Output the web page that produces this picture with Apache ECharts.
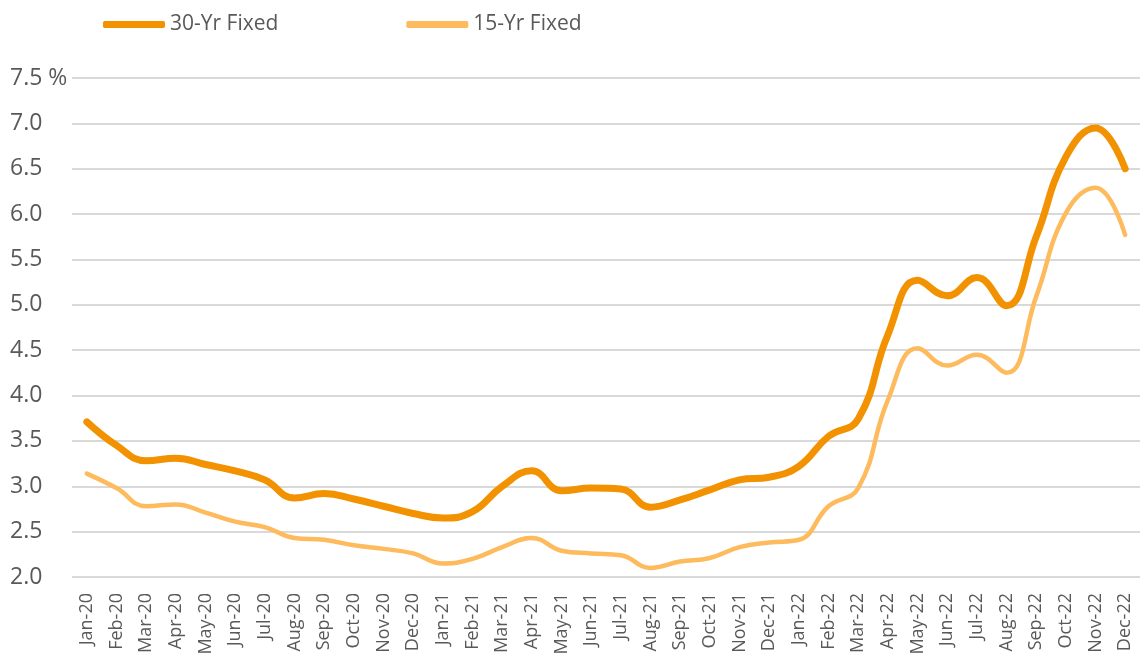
<!DOCTYPE html>
<html>
<head>
<meta charset="utf-8">
<script src="https://cdn.jsdelivr.net/npm/echarts@6/dist/echarts.min.js"></script>
<style>
  html, body { margin: 0; padding: 0; background: #fff; }
  #chart { width: 1140px; height: 669px; }
</style>
</head>
<body>
<div id="chart"></div>
<script>
const months = [
  "Jan-20","Feb-20","Mar-20","Apr-20","May-20","Jun-20","Jul-20","Aug-20","Sep-20","Oct-20","Nov-20","Dec-20",
  "Jan-21","Feb-21","Mar-21","Apr-21","May-21","Jun-21","Jul-21","Aug-21","Sep-21","Oct-21","Nov-21","Dec-21",
  "Jan-22","Feb-22","Mar-22","Apr-22","May-22","Jun-22","Jul-22","Aug-22","Sep-22","Oct-22","Nov-22","Dec-22"
];
const fixed30 = [
  3.71, 3.45, 3.28, 3.31, 3.24, 3.17, 3.07, 2.87, 2.92, 2.86, 2.78, 2.70,
  2.65, 2.72, 3.00, 3.17, 2.95, 2.98, 2.97, 2.77, 2.85, 2.96, 3.07, 3.10,
  3.22, 3.55, 3.74, 4.67, 5.27, 5.10, 5.30, 4.99, 5.75, 6.63, 6.95, 6.50
];
const fixed15 = [
  3.14, 2.98, 2.78, 2.80, 2.71, 2.61, 2.55, 2.43, 2.41, 2.35, 2.31, 2.26,
  2.15, 2.20, 2.33, 2.43, 2.29, 2.26, 2.24, 2.10, 2.17, 2.21, 2.33, 2.38,
  2.41, 2.78, 2.98, 3.95, 4.52, 4.33, 4.45, 4.25, 5.09, 6.01, 6.29, 5.77
];
const yTicks = [2.0, 7.5, 0.5]; // min, max, step

const font = "'Open Sans', 'Noto Sans', sans-serif";
const chart = echarts.init(document.getElementById("chart"));

chart.setOption({
  backgroundColor: "#fff",
  animation: false,
  color: ["#F39200", "#FDBB5E"],
  legend: {
    left: 98,
    top: 9,
    icon: "roundRect",
    itemWidth: 62,
    itemHeight: 7,
    itemGap: 128,
    textStyle: { fontFamily: font, fontSize: 21, color: "#595959" },
    data: ["30-Yr Fixed", "15-Yr Fixed"]
  },
  grid: { left: 72, top: 78, width: 1070, bottom: 92, containLabel: false },
  xAxis: {
    type: "category",
    data: months,
    boundaryGap: true,
    axisLine: { show: false },
    axisTick: { show: false },
    axisLabel: {
      rotate: 90,
      interval: 0,
      margin: 16,
      fontFamily: font,
      fontSize: 18,
      color: "#595959"
    }
  },
  yAxis: {
    type: "value",
    min: yTicks[0],
    max: yTicks[1],
    interval: yTicks[2],
    axisLine: { show: false },
    axisTick: { show: false },
    splitLine: { lineStyle: { color: "#d9d9d9", width: 2 } },
    axisLabel: {
      align: "left",
      margin: 62,
      fontFamily: font,
      fontSize: 23,
      color: "#595959",
      formatter: v => v === yTicks[1] ? v.toFixed(1) + " %" : v.toFixed(1)
    }
  },
  series: [
    {
      name: "30-Yr Fixed",
      type: "line",
      data: fixed30,
      smooth: 0.45,
      symbol: "none",
      lineStyle: { width: 7, cap: "round" },
      z: 3
    },
    {
      name: "15-Yr Fixed",
      type: "line",
      data: fixed15,
      smooth: 0.45,
      symbol: "none",
      lineStyle: { width: 4.5, cap: "round" },
      z: 2
    }
  ]
});
</script>
</body>
</html>
